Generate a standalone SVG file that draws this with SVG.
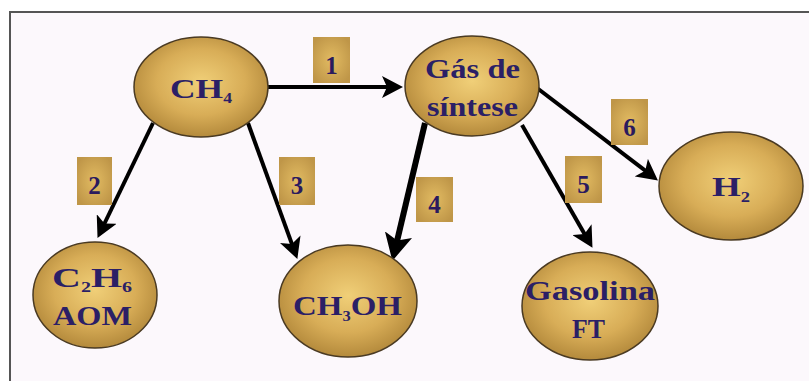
<svg xmlns="http://www.w3.org/2000/svg" width="809" height="381" viewBox="0 0 809 381">
<defs>
<radialGradient id="gold" cx="50%" cy="45%" r="55%">
<stop offset="0" stop-color="#f0cf78"/>
<stop offset="0.6" stop-color="#d8ad57"/>
<stop offset="1" stop-color="#b48a3c"/>
</radialGradient>
<radialGradient id="boxg" cx="50%" cy="50%" r="60%">
<stop offset="0" stop-color="#e2bb62"/>
<stop offset="1" stop-color="#bf9648"/>
</radialGradient>
<marker id="ah" markerUnits="userSpaceOnUse" markerWidth="22" markerHeight="22" refX="10" refY="11" orient="auto" viewBox="0 0 22 22">
<path d="M0,0 L21,11 L0,22 L5,11 z" fill="#000"/>
</marker>
<marker id="ahb" markerUnits="userSpaceOnUse" markerWidth="28" markerHeight="28" refX="12" refY="14" orient="auto" viewBox="0 0 28 28">
<path d="M0,0 L27,14 L0,28 L6,14 z" fill="#000"/>
</marker>
</defs>
<style>
.node ellipse{fill:url(#gold);stroke:#4a3a22;stroke-width:1.5}
.node text{font-family:"Liberation Serif","Times New Roman",serif;font-weight:bold;font-size:28px;fill:#2b1f66}
.lbl rect{fill:url(#boxg)}
.lbl text{font-family:"Liberation Serif","Times New Roman",serif;font-weight:bold;font-size:25px;fill:#2a1a5e;text-anchor:middle}
.edge{stroke:#000;stroke-width:4;fill:none;marker-end:url(#ah)}
</style>
<rect width="809" height="381" fill="#ffffff"/>
<rect x="10" y="12" width="799" height="369" fill="#fcf8fc"/>
<path d="M10,381 V12 H809" fill="none" stroke="#555" stroke-width="2"/>

<g id="connectors">
<line class="edge" x1="268" y1="87" x2="392" y2="87"/>
<line class="edge" x1="153" y1="123" x2="102.3" y2="228"/>
<line class="edge" x1="248" y1="123" x2="293.6" y2="248.6"/>
<line class="edge" x1="425" y1="123" x2="395.8" y2="246.3" style="stroke-width:6;marker-end:url(#ahb)"/>
<line class="edge" x1="522" y1="125" x2="587" y2="238.3"/>
<line class="edge" x1="537" y1="88" x2="649.2" y2="173.7"/>
</g>

<g id="labels">
<g class="lbl" id="lbl1"><rect x="313" y="37" width="37" height="46"/><text x="331.5" y="74">1</text></g>
<g class="lbl" id="lbl2"><rect x="77" y="157" width="35" height="48"/><text x="94.5" y="194">2</text></g>
<g class="lbl" id="lbl3"><rect x="279" y="157" width="36" height="48"/><text x="297" y="194">3</text></g>
<g class="lbl" id="lbl4"><rect x="416" y="177" width="37" height="45"/><text x="434.5" y="213">4</text></g>
<g class="lbl" id="lbl5"><rect x="565" y="156" width="37" height="47"/><text x="583.5" y="193">5</text></g>
<g class="lbl" id="lbl6"><rect x="611" y="99" width="37" height="46"/><text x="629.5" y="136">6</text></g>
</g>

<g id="ch4" class="node">
<ellipse cx="201" cy="87" rx="67" ry="50"/>
<text x="170" y="98" textLength="62" lengthAdjust="spacingAndGlyphs">CH<tspan font-size="14" dy="5">4</tspan></text>
</g>
<g id="gas" class="node">
<ellipse cx="472" cy="86" rx="67" ry="50"/>
<text x="425" y="78" textLength="95" lengthAdjust="spacingAndGlyphs">Gás de</text>
<text x="427" y="116" textLength="91" lengthAdjust="spacingAndGlyphs">síntese</text>
</g>
<g id="h2" class="node">
<ellipse cx="731" cy="186" rx="72" ry="54"/>
<text x="712" y="196" textLength="38" lengthAdjust="spacingAndGlyphs">H<tspan font-size="14" dy="6">2</tspan></text>
</g>
<g id="c2h6" class="node">
<ellipse cx="95" cy="295" rx="62" ry="53"/>
<text x="52" y="287" textLength="80" lengthAdjust="spacingAndGlyphs">C<tspan font-size="14" dy="5">2</tspan><tspan dy="-5">H</tspan><tspan font-size="14" dy="5">6</tspan></text>
<text x="53" y="325" textLength="79" lengthAdjust="spacingAndGlyphs">AOM</text>
</g>
<g id="ch3oh" class="node">
<ellipse cx="348" cy="301" rx="69" ry="56"/>
<text x="293" y="315" textLength="109" lengthAdjust="spacingAndGlyphs">CH<tspan font-size="14" dy="6">3</tspan><tspan dy="-6">OH</tspan></text>
</g>
<g id="gasolina" class="node">
<ellipse cx="590" cy="306" rx="68" ry="54"/>
<text x="525" y="300" textLength="130" lengthAdjust="spacingAndGlyphs">Gasolina</text>
<text x="572" y="338" textLength="33" lengthAdjust="spacingAndGlyphs">FT</text>
</g>
</svg>
